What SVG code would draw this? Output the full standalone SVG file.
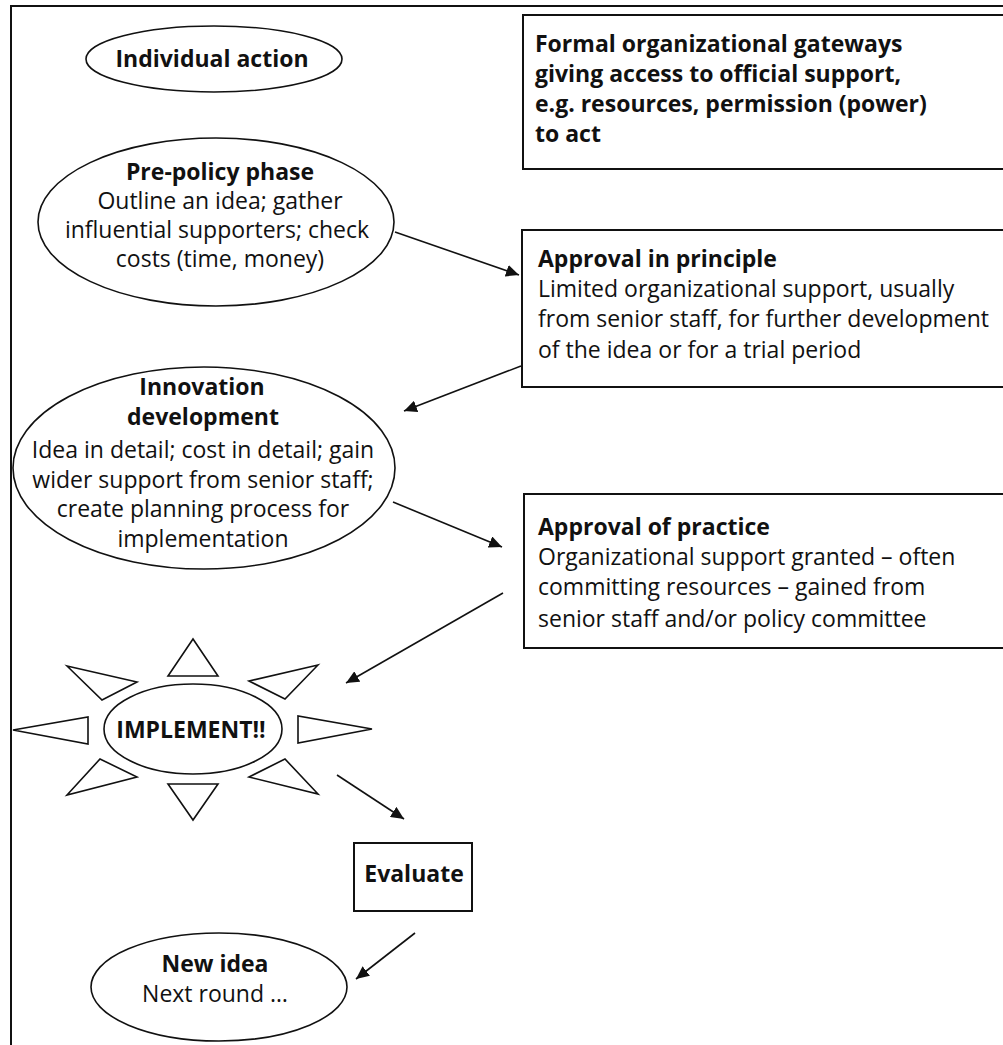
<svg xmlns="http://www.w3.org/2000/svg" width="1003" height="1045" viewBox="0 0 1003 1045">
<style>
text{font-family:"Open Sans","Noto Sans","Liberation Sans",sans-serif;font-size:23px;fill:#111}
.b{font-weight:bold}
.c{text-anchor:middle}
.shape{fill:#fff;stroke:#111;stroke-width:1.6}
.box{fill:#fff;stroke:#111;stroke-width:2}
.conn{stroke:#111;stroke-width:1.6;fill:none;marker-end:url(#ah)}
.ray{fill:#fff;stroke:#111;stroke-width:1.6;stroke-linejoin:miter}
</style>
<defs>
<marker id="ah" markerUnits="userSpaceOnUse" markerWidth="14" markerHeight="12" refX="13" refY="6" orient="auto">
<path d="M0,0 L13,6 L0,12 z" fill="#111"/>
</marker>
</defs>
<rect width="1003" height="1045" fill="#fff"/>
<g id="frame">
<line x1="10" y1="6" x2="1003" y2="6" stroke="#111" stroke-width="2"/>
<line x1="11" y1="6" x2="11" y2="1045" stroke="#111" stroke-width="2"/>
</g>
<g id="individual-action">
<ellipse class="shape" cx="214" cy="59" rx="128" ry="33"/>
<text class="b c" x="212" y="67">Individual action</text>
</g>
<g id="formal-gateways">
<rect class="box" x="523" y="15" width="490" height="154"/>
<text class="b" x="535" y="52">Formal organizational gateways</text>
<text class="b" x="535" y="82">giving access to official support,</text>
<text class="b" x="535" y="112">e.g. resources, permission (power)</text>
<text class="b" x="535" y="142">to act</text>
</g>
<g id="pre-policy">
<ellipse class="shape" cx="216" cy="222" rx="178" ry="84"/>
<text class="b c" x="220" y="180">Pre-policy phase</text>
<text class="c" x="220" y="209">Outline an idea; gather</text>
<text class="c" x="217" y="238">influential supporters; check</text>
<text class="c" x="220" y="267">costs (time, money)</text>
</g>
<g id="approval-principle">
<rect class="box" x="522" y="230" width="490" height="157"/>
<text class="b" x="538" y="267">Approval in principle</text>
<text x="538" y="297">Limited organizational support, usually</text>
<text x="538" y="327">from senior staff, for further development</text>
<text x="538" y="358">of the idea or for a trial period</text>
</g>
<g id="innovation-development">
<ellipse class="shape" cx="204" cy="468" rx="191" ry="101"/>
<text class="b c" x="202" y="395">Innovation</text>
<text class="b c" x="203" y="425">development</text>
<text class="c" x="203" y="458">Idea in detail; cost in detail; gain</text>
<text class="c" x="203" y="488">wider support from senior staff;</text>
<text class="c" x="203" y="517">create planning process for</text>
<text class="c" x="203" y="547">implementation</text>
</g>
<g id="approval-practice">
<rect class="box" x="524" y="494" width="490" height="154"/>
<text class="b" x="538" y="535">Approval of practice</text>
<text x="538" y="565">Organizational support granted – often</text>
<text x="538" y="595">committing resources – gained from</text>
<text x="538" y="627">senior staff and/or policy committee</text>
</g>
<g id="implement">
<polygon class="ray" points="193,639 168,676 218,676"/>
<polygon class="ray" points="67,666 137,682 102,700"/>
<polygon class="ray" points="318,665 249,681 285,699"/>
<polygon class="ray" points="13,730 88,717 88,744"/>
<polygon class="ray" points="372,729 298,716 298,743"/>
<polygon class="ray" points="100,759 137,777 67,795"/>
<polygon class="ray" points="285,759 249,777 318,794"/>
<polygon class="ray" points="168,784 218,784 193,820"/>
<ellipse class="shape" cx="193" cy="729" rx="89" ry="45"/>
<text class="b c" x="191" y="738">IMPLEMENT!!</text>
</g>
<g id="evaluate">
<rect class="box" x="354" y="843" width="118" height="68"/>
<text class="b c" x="414" y="882">Evaluate</text>
</g>
<g id="new-idea">
<ellipse class="shape" cx="219" cy="987" rx="128" ry="54"/>
<text class="b c" x="215" y="972">New idea</text>
<text class="c" x="215" y="1002">Next round …</text>
</g>
<g id="connectors">
<line class="conn" x1="395" y1="232" x2="519" y2="275"/>
<line class="conn" x1="521" y1="366" x2="404" y2="411"/>
<line class="conn" x1="393" y1="502" x2="502" y2="547"/>
<line class="conn" x1="503" y1="593" x2="346" y2="683"/>
<line class="conn" x1="337" y1="775" x2="404" y2="819"/>
<line class="conn" x1="415" y1="933" x2="356" y2="979"/>
</g>
</svg>
